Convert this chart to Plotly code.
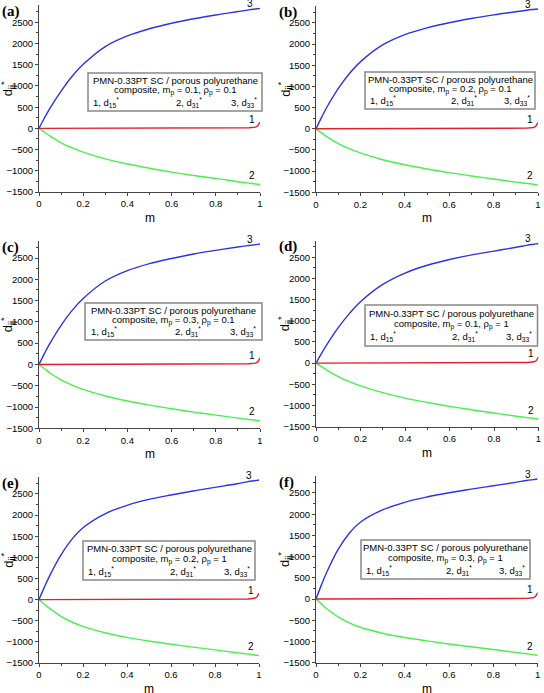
import plotly.graph_objects as go

# ---------------- data ----------------
m = [0, 0.025, 0.05, 0.1, 0.15, 0.2, 0.3, 0.4, 0.5, 0.6, 0.7, 0.8, 0.9, 0.95, 0.98, 0.99, 1.0]

panel_labels = ["(a)", "(b)", "(c)", "(d)", "(e)", "(f)"]
mp_values = ["0.1", "0.2", "0.3", "0.1", "0.2", "0.3"]
rhop_values = ["0.1", "0.1", "0.1", "1", "1", "1"]

d33 = {
    "a": [0, 250, 480, 880, 1230, 1510, 1930, 2180, 2350, 2480, 2585, 2675, 2755, 2795, 2815, 2822, 2830],
    "b": [0, 270, 520, 950, 1300, 1580, 1980, 2225, 2385, 2505, 2605, 2690, 2765, 2800, 2818, 2824, 2830],
    "c": [0, 260, 500, 920, 1270, 1550, 1960, 2205, 2370, 2490, 2595, 2680, 2760, 2795, 2815, 2822, 2830],
    "d": [0, 230, 450, 840, 1170, 1450, 1860, 2130, 2315, 2450, 2560, 2650, 2740, 2790, 2812, 2820, 2830],
    "e": [0, 300, 580, 1060, 1430, 1700, 2030, 2230, 2370, 2475, 2570, 2655, 2740, 2790, 2812, 2820, 2830],
    "f": [0, 340, 650, 1170, 1550, 1810, 2100, 2280, 2405, 2505, 2590, 2670, 2750, 2795, 2815, 2822, 2830],
}
d31 = {
    "a": [0, -90, -180, -340, -460, -560, -720, -840, -940, -1030, -1110, -1180, -1258, -1290, -1310, -1318, -1325],
    "b": [0, -95, -190, -350, -470, -570, -730, -850, -950, -1035, -1115, -1185, -1260, -1290, -1310, -1318, -1325],
    "c": [0, -100, -200, -360, -485, -585, -740, -860, -955, -1040, -1120, -1190, -1260, -1292, -1310, -1318, -1325],
    "d": [0, -85, -170, -320, -440, -540, -700, -830, -930, -1025, -1105, -1180, -1256, -1290, -1310, -1318, -1325],
    "e": [0, -110, -215, -395, -530, -635, -785, -895, -980, -1055, -1125, -1190, -1258, -1290, -1310, -1318, -1325],
    "f": [0, -120, -235, -420, -560, -665, -805, -905, -985, -1058, -1125, -1190, -1258, -1290, -1310, -1318, -1325],
}
d15 = [0, 0, 0, 0, 0, 0, 1, 2, 3, 4, 5, 7, 10, 15, 30, 60, 150]

y_ticks = [-1500, -1000, -500, 0, 500, 1000, 1500, 2000, 2500]
x_ticks = [0, 0.2, 0.4, 0.6, 0.8, 1]
x_ticklabels = ["0", "0.2", "0.4", "0.6", "0.8", "1"]

# ---------------- layout geometry (pixels) ----------------
W, H = 544, 693
# x0, x1, top, bottom in pixels
geom = [
    (39, 260, 5.4, 192),
    (316, 538, 6, 192.3),
    (39, 260, 241, 428.3),
    (316, 538.5, 240.5, 426.5),
    (39, 259, 477, 663),
    (316, 537.7, 476, 662.7),
]
# legend boxes: x0, x1, top, bottom in pixels
boxes = [
    (88, 262, 73, 111),
    (365, 535, 72, 109),
    (85, 262, 303, 340),
    (365, 537.5, 305, 346),
    (83, 255, 541, 580),
    (361, 530, 540, 579),
]

BLUE = "#2a35e0"
RED = "#e0202a"
GREEN = "#4cee4c"
FONT = "Liberation Sans, Arial, sans-serif"

fig = go.Figure()
layout = dict(
    width=W, height=H,
    margin=dict(l=0, r=0, t=0, b=0, autoexpand=False),
    paper_bgcolor="white", plot_bgcolor="white",
    showlegend=False,
    font=dict(family=FONT, size=9, color="black"),
)
annotations = []
shapes = []


def px(x):
    return x / W


def py(y):
    return 1 - y / H


keys = ["a", "b", "c", "d", "e", "f"]
for i, k in enumerate(keys):
    n = "" if i == 0 else str(i + 1)
    xa, ya = "x" + n, "y" + n
    x0, x1, top, bot = geom[i]
    fig.add_trace(go.Scatter(x=m, y=d33[k], mode="lines", line=dict(color=BLUE, width=1.4, shape="spline"),
                             xaxis=xa, yaxis=ya, cliponaxis=False))
    fig.add_trace(go.Scatter(x=m, y=d31[k], mode="lines", line=dict(color=GREEN, width=1.4, shape="spline"),
                             xaxis=xa, yaxis=ya, cliponaxis=False))
    fig.add_trace(go.Scatter(x=m, y=d15, mode="lines", line=dict(color=RED, width=1.4),
                             xaxis=xa, yaxis=ya, cliponaxis=False))
    layout["xaxis" + n] = dict(
        domain=[px(x0), px(x1)], anchor=ya, range=[0, 1], automargin=False,
        tickvals=x_ticks, ticktext=x_ticklabels,
        ticks="outside", ticklen=3, tickwidth=1, tickcolor="#444",
        showline=True, linecolor="#444", linewidth=1, showgrid=False, zeroline=False,
        tickfont=dict(size=9.5, family=FONT),
        minor=dict(dtick=0.1, tick0=0, ticks="outside", ticklen=2, tickcolor="#444"),
    )
    layout["yaxis" + n] = dict(
        domain=[py(bot), py(top)], anchor=xa, range=[-1500, 2900], automargin=False,
        tickvals=y_ticks,
        ticks="outside", ticklen=3, tickwidth=1, tickcolor="#444",
        showline=True, linecolor="#444", linewidth=1, showgrid=False, zeroline=False,
        tickfont=dict(size=9.5, family=FONT),
        minor=dict(dtick=250, tick0=0, ticks="outside", ticklen=2, tickcolor="#444"),
    )
    # panel label
    annotations.append(dict(xref="paper", yref="paper", x=px(x0 - 39), y=py(top - 5.4 + 1),
                            text="<b>" + panel_labels[i] + "</b>", showarrow=False,
                            xanchor="left", yanchor="top",
                            font=dict(family="Liberation Serif, Times New Roman, serif", size=15)))
    # axis titles
    annotations.append(dict(xref="paper", yref="paper", x=px((x0 + x1) / 2), y=py(bot + 26),
                            text="m", showarrow=False, xanchor="center", yanchor="middle",
                            font=dict(size=12, family=FONT)))
    annotations.append(dict(xref="paper", yref="paper", x=px(x0 - 31), y=py(top + 0.45 * (bot - top)),
                            text="d<sub>ij</sub><sup>*</sup>", showarrow=False, textangle=-90,
                            xanchor="center", yanchor="middle",
                            font=dict(size=13, family=FONT)))
    # curve labels
    annotations.append(dict(xref=xa, yref=ya, x=0.955, y=2830, text="3", showarrow=False,
                            xanchor="center", yanchor="bottom", yshift=-3, font=dict(size=10)))
    annotations.append(dict(xref=xa, yref=ya, x=0.965, y=40, text="1", showarrow=False,
                            xanchor="center", yanchor="bottom", font=dict(size=10)))
    annotations.append(dict(xref=xa, yref=ya, x=0.965, y=-1290, text="2", showarrow=False,
                            xanchor="center", yanchor="bottom", font=dict(size=10)))
    # legend box
    bx0, bx1, btop, bbot = boxes[i]
    shapes.append(dict(type="rect", xref="paper", yref="paper",
                       x0=px(bx0), x1=px(bx1), y0=py(bbot), y1=py(btop),
                       line=dict(color="#888", width=1.5), fillcolor="white", layer="above"))
    bh = bbot - btop
    annotations.append(dict(xref="paper", yref="paper", x=px((bx0 + bx1) / 2), y=py(btop + bh * 0.2),
                            text="PMN-0.33PT SC / porous polyurethane", showarrow=False,
                            xanchor="center", yanchor="middle", font=dict(size=9.5)))
    annotations.append(dict(xref="paper", yref="paper", x=px((bx0 + bx1) / 2), y=py(btop + bh * 0.47),
                            text="composite, m<sub>p</sub> = " + mp_values[i] + ", \u03c1<sub>p</sub> = " + rhop_values[i],
                            showarrow=False, xanchor="center", yanchor="middle", font=dict(size=9.5)))
    for j, (lab, frac, anch) in enumerate([("1, d<sub>15</sub><sup>*</sup>", 0.02, "left"),
                                           ("2, d<sub>31</sub><sup>*</sup>", 0.58, "center"),
                                           ("3, d<sub>33</sub><sup>*</sup>", 0.98, "right")]):
        annotations.append(dict(xref="paper", yref="paper", x=px(bx0 + frac * (bx1 - bx0)), y=py(btop + bh * 0.78),
                                text=lab, showarrow=False, xanchor=anch, yanchor="middle",
                                font=dict(size=9.5)))

layout["annotations"] = annotations
layout["shapes"] = shapes
fig.update_layout(**layout)
fig.write_html("out.html",
               config={"displayModeBar": False},
               post_script="document.body.style.margin='0';document.body.style.overflow='hidden';")
